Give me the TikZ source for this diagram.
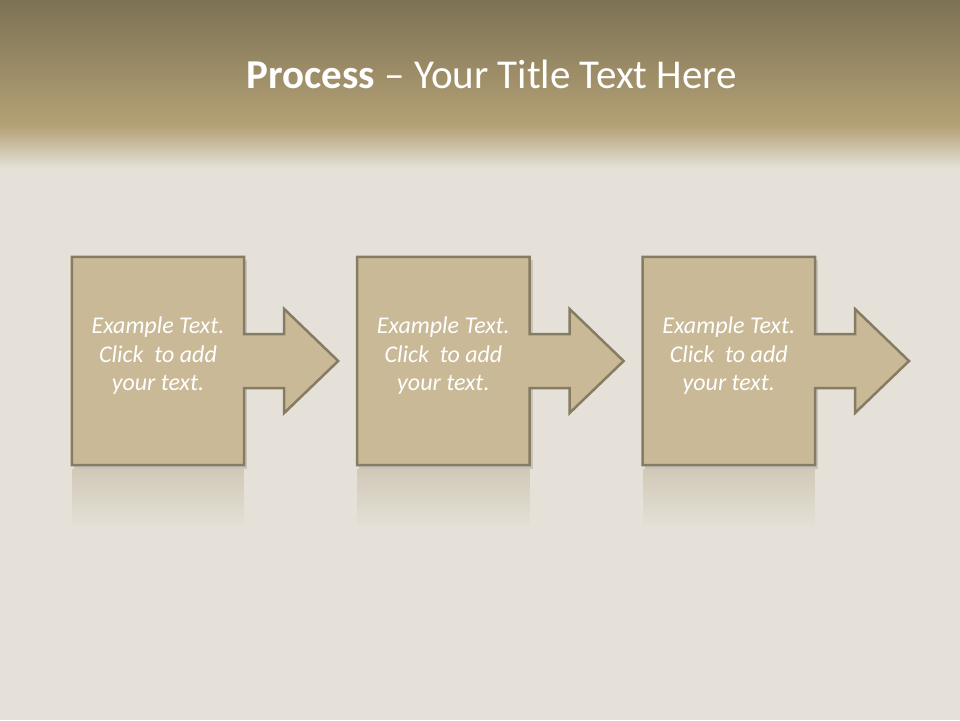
\documentclass[tikz,border=0pt]{standalone}
\usepackage{xcolor}
\usepackage{fontspec}
\setmainfont{Carlito}
\usepackage{tikz}
\usetikzlibrary{positioning, calc, fadings}
\definecolor{linen}{RGB}{229,225,216}
\definecolor{bandtop}{RGB}{125,114,84}
\definecolor{bandbot}{RGB}{180,161,118}
\definecolor{stepfill}{RGB}{201,185,151}
\definecolor{stepline}{RGB}{134,124,99}
\tikzfading[name=reflectfade, top color=transparent!60, bottom color=transparent!100]
\tikzset{
  stepbox/.style={minimum width=172, minimum height=208, inner sep=0pt},
  steptext/.style={align=center, font=\fontsize{24}{28.5}\selectfont\itshape, text=white},
  callout/.style={draw=stepline, line width=2.5pt, fill=stepfill, line join=miter},
  reflect/.style={fill=stepfill!90!black, path fading=reflectfade},
  title/.style={font=\fontsize{41}{48}\selectfont, text=white},
}

\begin{document}
\begin{tikzpicture}[x=1pt, y=-1pt]
\useasboundingbox (0,0) rectangle (960,720);
\fill[linen] (0,0) rectangle (960,720);
\shade[top color=bandtop, bottom color=bandbot] (0,0) rectangle (960,126);
\shade[top color=bandbot, bottom color=linen] (0,126) rectangle (960,168);
\node[title] (head) at (492,74) {\textbf{Process} -- Your Title Text Here};

\node[stepbox] (box1) at (158,361) {};
\node[stepbox, right=113 of box1] (box2) {};
\node[stepbox, right=113 of box2] (box3) {};

% callouts
\foreach \b in {box1, box2, box3} {
  \fill[reflect] ($(\b.south west)+(0,4)$) rectangle ($(\b.south east)+(0,62)$);
  \fill[black, opacity=0.12] ($(\b.north west)+(2,3)$) rectangle ($(\b.south east)+(3,4)$);
  \draw[callout] (\b.north west) -- (\b.north east) -- ($(\b.east)+(0,-27)$)
    -- ++(40,0) -- ++(0,-25) -- ++(54,52) -- ++(-54,52) -- ++(0,-25)
    -- ($(\b.east)+(0,27)$) -- (\b.south east) -- (\b.south west) -- cycle;
  \node[steptext] (\b-text) at ($(\b)+(0,-5)$) {Example Text.\\Click\ \ to add\\your text.};
}
\end{tikzpicture}
\end{document}
